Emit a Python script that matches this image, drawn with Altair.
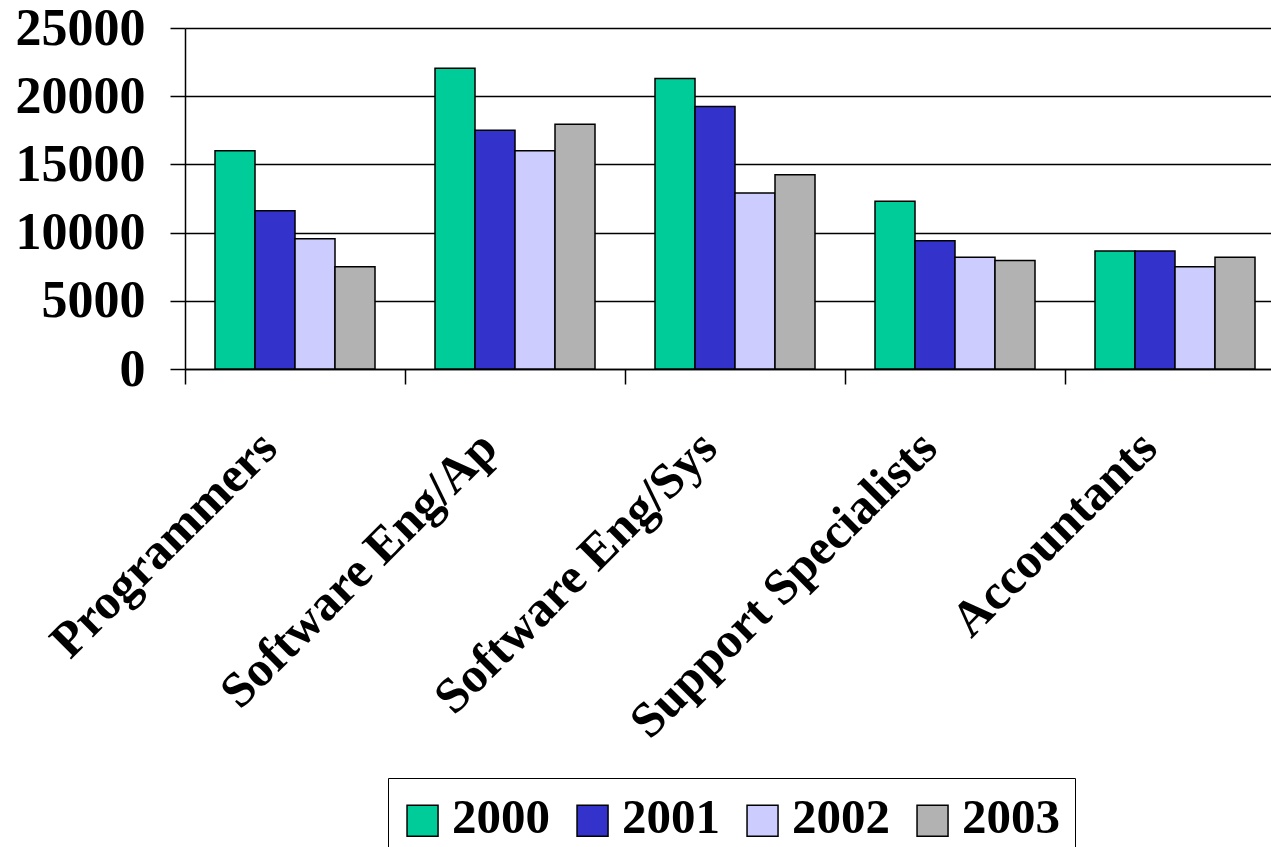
import altair as alt
import pandas as pd

# Job categories along the x axis
categories = [
    "Programmers",
    "Software Eng/Ap",
    "Software Eng/Sys",
    "Support Specialists",
    "Accountants",
]

# Series by year
years = ["2000", "2001", "2002", "2003"]
values_2000 = [16000, 22050, 21300, 12300, 8650]
values_2001 = [11600, 17500, 19250, 9400, 8650]
values_2002 = [9550, 16000, 12900, 8200, 7500]
values_2003 = [7500, 17950, 14250, 7950, 8200]

colors = ["#00CC99", "#3333CC", "#CCCCFF", "#B2B2B2"]
y_ticks = [0, 5000, 10000, 15000, 20000, 25000]

series = [values_2000, values_2001, values_2002, values_2003]
rows = []
for year, vals in zip(years, series):
    for cat, v in zip(categories, vals):
        rows.append({"category": cat, "year": year, "value": v})
df = pd.DataFrame(rows)

FONT = "Liberation Serif"

# square legend swatch, nudged left so the label sits close to it
SWATCH = "M-1.32,-0.8H0.68V1.2H-1.32Z"

chart = (
    alt.Chart(df)
    .mark_bar(stroke="black", strokeWidth=1.5)
    .encode(
        x=alt.X(
            "category:N",
            sort=categories,
            title=None,
            scale=alt.Scale(range=[0, 1100], paddingInner=0, paddingOuter=0),
            axis=alt.Axis(
                labelAngle=315,
                labelAlign="right",
                labelBaseline="top",
                labelFont=FONT,
                labelFontWeight="bold",
                labelFontSize=50,
                labelColor="black",
                labelPadding=38,
                labelOffset=-44,
                labelLimit=0,
                tickBand="extent",
                tickSize=15,
                tickColor="black",
                tickWidth=1.5,
                domainColor="black",
                domainWidth=1.5,
                grid=False,
            ),
        ),
        xOffset=alt.XOffset(
            "year:N", sort=years, scale=alt.Scale(paddingInner=0, paddingOuter=0.75)
        ),
        y=alt.Y(
            "value:Q",
            title=None,
            scale=alt.Scale(domain=[0, 25000], nice=False),
            axis=alt.Axis(
                values=y_ticks,
                format="d",
                labelFont=FONT,
                labelFontWeight="bold",
                labelFontSize=52,
                labelColor="black",
                labelPadding=25,
                tickSize=15,
                tickColor="black",
                tickWidth=1.5,
                domainColor="black",
                domainWidth=1.5,
                grid=True,
                gridColor="black",
                gridWidth=1.5,
                gridOpacity=1,
            ),
        ),
        color=alt.Color(
            "year:N",
            sort=years,
            scale=alt.Scale(domain=years, range=colors),
            legend=alt.Legend(
                title=None,
                orient="none",
                legendX=203,
                legendY=750,
                direction="horizontal",
                columns=4,
                symbolType=SWATCH,
                symbolSize=961,
                symbolStrokeColor="black",
                symbolStrokeWidth=1.5,
                symbolOpacity=1,
                labelFont=FONT,
                labelFontWeight="bold",
                labelFontSize=49,
                labelColor="black",
                labelOffset=0,
                columnPadding=23,
                padding=15,
                strokeColor="black",
                fillColor="white",
                labelLimit=0,
            ),
        ),
    )
    .properties(
        width=1086,
        height=341,
        autosize=alt.AutoSizeParams(type="none"),
        padding={"left": 185, "top": 28, "right": 0, "bottom": 478},
        background="white",
    )
    .configure_view(stroke=None)
)

chart.save("out.html", embed_options={"renderer": "svg", "actions": False})
